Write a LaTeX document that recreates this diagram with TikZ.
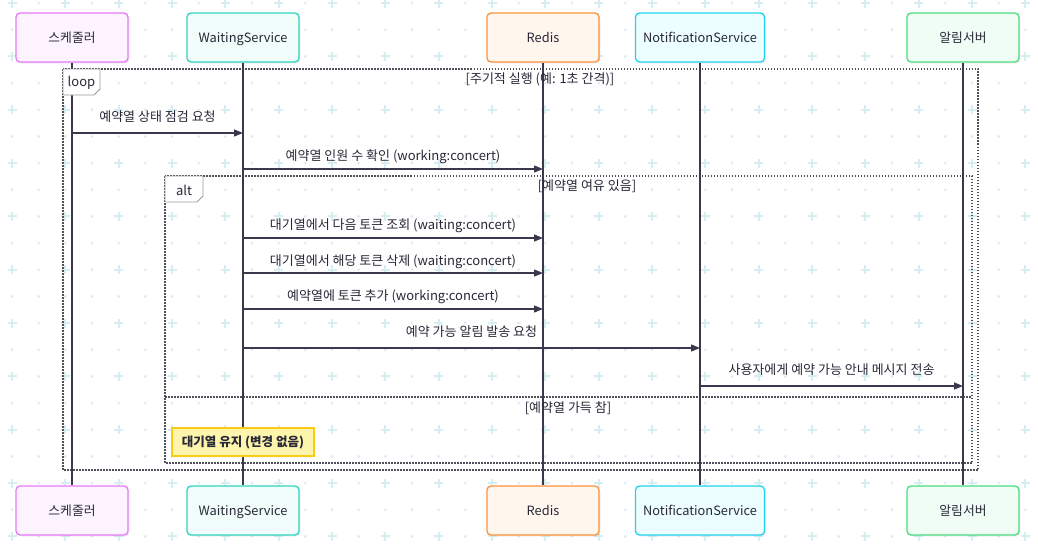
\documentclass[tikz,border=0pt]{standalone}
\usepackage{fontspec}
\setmainfont{Noto Sans CJK KR}
\usetikzlibrary{arrows.meta,calc,shadows}
\definecolor{patc}{RGB}{214,238,242}
\definecolor{linec}{RGB}{58,56,76}
\definecolor{textc}{RGB}{40,40,55}
\definecolor{framec}{RGB}{80,80,90}
\definecolor{sbd}{HTML}{E879F9}\definecolor{sfl}{HTML}{FDF4FF}
\definecolor{wbd}{HTML}{2DD4BF}\definecolor{wfl}{HTML}{F0FDFA}
\definecolor{rbd}{HTML}{FB923C}\definecolor{rfl}{HTML}{FFF7ED}
\definecolor{nbd}{HTML}{22D3EE}\definecolor{nfl}{HTML}{ECFEFF}
\definecolor{abd}{HTML}{4ADE80}\definecolor{afl}{HTML}{F0FDF4}
\definecolor{notebd}{HTML}{FACC15}\definecolor{notefl}{HTML}{FEF5AD}
\begin{document}
\begin{tikzpicture}[x=1pt,y=-1pt,
  pbox/.style={draw, line width=1.3pt, rounded corners=4pt, minimum width=112pt, minimum height=49pt,
     font=\fontsize{12.8}{14}\selectfont, text=textc, inner sep=0pt, text height=10pt, text depth=1pt,
     drop shadow={shadow xshift=1.5pt,shadow yshift=-1.5pt,opacity=0.12}},
  life/.style={draw=linec, line width=1.8pt},
  msg/.style={draw=linec, line width=1.3pt, -{Triangle[length=9pt,width=7pt]}},
  mlabel/.style={font=\fontsize{13}{14}\selectfont, text=textc, inner sep=0pt},
  frame/.style={draw=framec, line width=1.1pt, dash pattern=on 1.5pt off 1.5pt},
  flabel/.style={draw=gray!80, fill=white, line width=0.8pt},
  note/.style={draw=notebd, fill=notefl, line width=1.2pt, minimum width=142pt, minimum height=28pt,
     font=\fontsize{12.5}{14}\selectfont\bfseries, text=textc, inner sep=0pt}
]
\useasboundingbox (0,0) rectangle (1038,555);
\fill[white] (0,0) rectangle (1038,555);
% background pattern
\foreach \i in {0,...,39}{
  \foreach \j in {0,...,21}{
    \pgfmathsetmacro{\px}{12+26.667*\i}
    \pgfmathsetmacro{\py}{3+26.667*\j}
    \ifodd\j
      \fill[patc] (\px,\py) circle (1.5);
    \else
      \ifodd\i
        \fill[patc] (\px,\py) circle (1.5);
      \else
        \draw[patc, line width=2pt] (\px-4.5,\py) -- (\px+4.5,\py) (\px,\py-4.5) -- (\px,\py+4.5);
      \fi
    \fi
  }
}
% participants (top)
\node[pbox, draw=sbd, fill=sfl] (st) at (72,37.5) {스케줄러};
\node[pbox, draw=wbd, fill=wfl] (wt) at (243,37.5) {WaitingService};
\node[pbox, draw=rbd, fill=rfl] (rt) at (543,37.5) {Redis};
\node[pbox, draw=nbd, fill=nfl, minimum width=129pt] (nt) at (700,37.5) {NotificationService};
\node[pbox, draw=abd, fill=afl] (at) at (963,37.5) {알림서버};
% participants (bottom)
\node[pbox, draw=sbd, fill=sfl] (sb) at (72,510.5) {스케줄러};
\node[pbox, draw=wbd, fill=wfl] (wb) at (243,510.5) {WaitingService};
\node[pbox, draw=rbd, fill=rfl] (rb) at (543,510.5) {Redis};
\node[pbox, draw=nbd, fill=nfl, minimum width=129pt] (nb) at (700,510.5) {NotificationService};
\node[pbox, draw=abd, fill=afl] (ab) at (963,510.5) {알림서버};
% frames
\draw[frame] (63,69) rectangle (978,470);
\draw[frame] (165,176) rectangle (972,463);
\draw[frame] (165,397) -- (972,397);
% lifelines
\draw[life] (st.south) -- (sb.north);
\draw[life] (wt.south) -- (wb.north);
\draw[life] (rt.south) -- (rb.north);
\draw[life] (nt.south) -- (nb.north);
\draw[life] (at.south) -- (ab.north);
% frame labels
\draw[flabel] (63,69) -- (100,69) -- (100,89) -- (94,95) -- (63,95) -- cycle;
\node[mlabel] (looplbl) at (81.5,83) {loop};
\node[mlabel] (loopcond) at (540,79) {[주기적 실행 (예: 1초 간격)]};
\draw[flabel] (165,176) -- (203,176) -- (203,196) -- (197,202) -- (165,202) -- cycle;
\node[mlabel] (altlbl) at (184,190) {alt};
\node[mlabel] (altcond) at (587,186) {[예약열 여유 있음]};
\node[mlabel] (elsecond) at (568,408) {[예약열 가득 참]};
% messages
\draw[msg] (st.center |- 0,133) -- (wt.center |- 0,133);
\node[mlabel] (l1) at (157.5,117) {예약열 상태 점검 요청};
\draw[msg] (wt.center |- 0,169) -- (rt.center |- 0,169);
\node[mlabel] (l2) at (393,157) {예약열 인원 수 확인 (working:concert)};
\draw[msg] (wt.center |- 0,238) -- (rt.center |- 0,238);
\node[mlabel] (l3) at (393,226) {대기열에서 다음 토큰 조회 (waiting:concert)};
\draw[msg] (wt.center |- 0,273) -- (rt.center |- 0,273);
\node[mlabel] (l4) at (393,262) {대기열에서 해당 토큰 삭제 (waiting:concert)};
\draw[msg] (wt.center |- 0,309) -- (rt.center |- 0,309);
\node[mlabel] (l5) at (393,297) {예약열에 토큰 추가 (working:concert)};
\draw[msg] (wt.center |- 0,348) -- (nt.center |- 0,348);
\node[mlabel] (l6) at (471.5,332) {예약 가능 알림 발송 요청};
\draw[msg] (nt.center |- 0,386) -- (at.center |- 0,386);
\node[mlabel] (l7) at (831.5,370) {사용자에게 예약 가능 안내 메시지 전송};
% note
\node[note] (note1) at (243,442) {대기열 유지 (변경 없음)};
\end{tikzpicture}
\end{document}
